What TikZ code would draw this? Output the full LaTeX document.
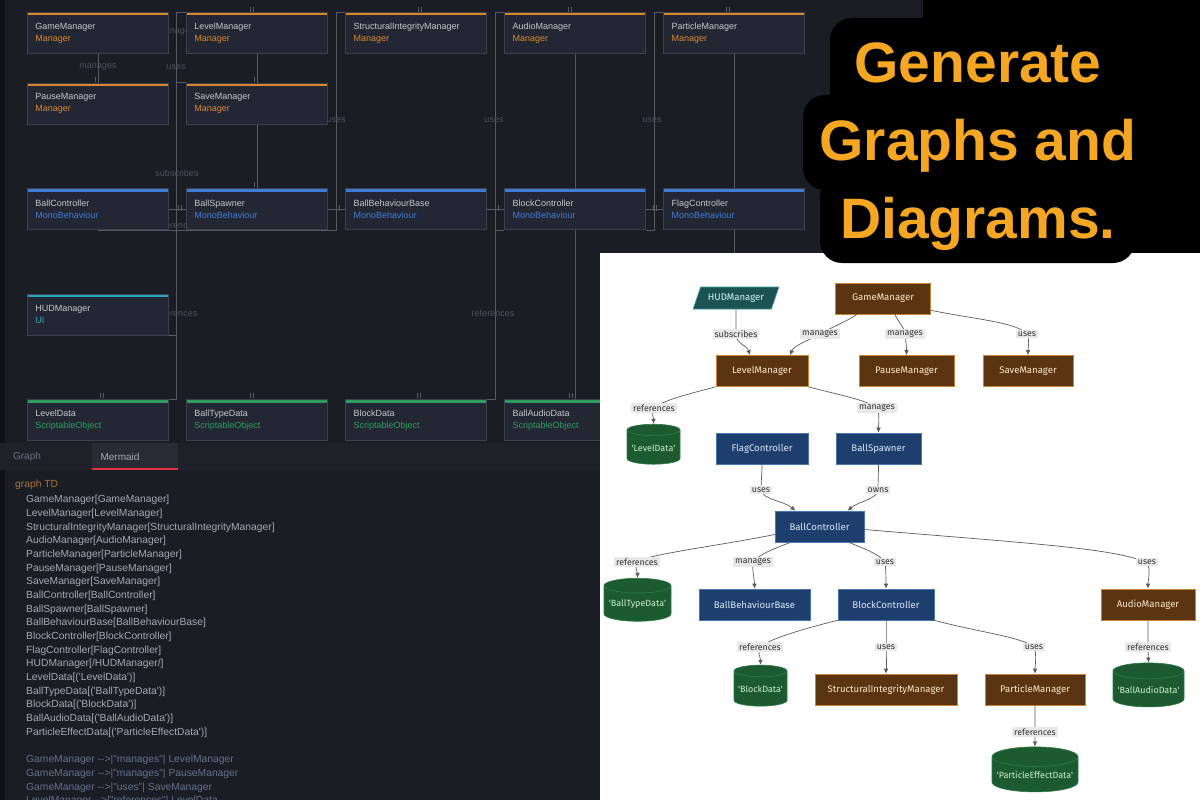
\documentclass[tikz,border=0pt]{standalone}
\usepackage{fontspec}
\setmainfont{Liberation Sans}
\newfontfamily\codefont{Liberation Sans}[Ligatures=TeXOff]
\newfontfamily\mmfont{Fira Sans}[Ligatures=TeXOff]
\usetikzlibrary{positioning,arrows.meta,shapes.geometric}

\definecolor{dbg}{HTML}{1B1D24}
\definecolor{dstrip}{HTML}{101217}
\definecolor{dboxfill}{HTML}{232733}
\definecolor{dline}{HTML}{3B404C}
\definecolor{dwire}{HTML}{555A65}
\definecolor{dlab}{HTML}{4A4F5A}
\definecolor{dtext}{HTML}{C2C6CE}
\definecolor{mgr}{HTML}{D6872C}
\definecolor{mono}{HTML}{3E7CD4}
\definecolor{ui}{HTML}{27A8BE}
\definecolor{sobj}{HTML}{2E9C5C}
\definecolor{tabbar}{HTML}{1F2128}
\definecolor{tabon}{HTML}{282B34}
\definecolor{tabred}{HTML}{E0323C}
\definecolor{tabgray}{HTML}{6B7080}
\definecolor{codekw}{HTML}{A8733A}
\definecolor{codetxt}{HTML}{A4A9B4}
\definecolor{codeedge}{HTML}{64708D}
\definecolor{hl}{HTML}{F5A623}
\definecolor{mbrown}{HTML}{5B3511}
\definecolor{mbrownln}{HTML}{C98434}
\definecolor{mbrowntx}{HTML}{FBE7CF}
\definecolor{mblue}{HTML}{1E3F6E}
\definecolor{mblueln}{HTML}{4A78B2}
\definecolor{mbluetx}{HTML}{DCE6F6}
\definecolor{mteal}{HTML}{1B5353}
\definecolor{mtealln}{HTML}{2F9C9C}
\definecolor{mtealtx}{HTML}{D8F2F2}
\definecolor{mgreen}{HTML}{1C5A2F}
\definecolor{mgreenln}{HTML}{2D7C44}
\definecolor{mgreentx}{HTML}{CDEFC9}
\definecolor{medge}{HTML}{5C5C5C}
\definecolor{elabbg}{HTML}{E8E8E8}
\definecolor{elabtx}{HTML}{333333}

\pgfdeclarelayer{back}
\pgfdeclarelayer{wires}
\pgfsetlayers{back,wires,main}

\begin{document}
\begin{tikzpicture}[
  x=1pt, y=-1pt,
  font=\fontsize{9}{12}\selectfont,
  dbox/.style={draw=dline, line width=0.6pt, fill=dboxfill, text=dtext,
               minimum width=141pt, minimum height=41pt, text width=125pt,
               inner xsep=8pt, inner ysep=0pt, align=left,
               path picture={\fill[#1] (path picture bounding box.north west)
                 rectangle ([yshift=-3pt]path picture bounding box.north east);}},
  wire/.style={draw=dwire, line width=0.6pt},
  dlabel/.style={text=dlab, inner sep=0pt},
  codeblk/.style={inner sep=0pt, align=left,
                  font=\codefont\fontsize{10.3}{13.65}\selectfont},
  mnode/.style={rectangle, line width=0.6pt, minimum height=31pt, inner xsep=4pt,
                font=\mmfont\fontsize{9.6}{11}\selectfont},
  mgrbox/.style={mnode, draw=mbrownln, fill=mbrown, text=mbrowntx},
  ctlbox/.style={mnode, draw=mblueln, fill=mblue, text=mbluetx},
  uibox/.style={mnode, trapezium, trapezium left angle=66, trapezium right angle=114,
                trapezium stretches=true, minimum height=22pt,
                draw=mtealln, fill=mteal, text=mtealtx},
  datacyl/.style={cylinder, shape border rotate=90, aspect=0.25, line width=0.6pt,
                  draw=mgreenln, fill=mgreen, text=mgreentx, inner xsep=1pt,
                  font=\mmfont\fontsize{9}{10}\selectfont},
  flow/.style={draw=medge, line width=0.7pt, -{Latex[length=5pt,width=4.6pt]}},
  elab/.style={fill=elabbg, text=elabtx, inner xsep=2pt, inner ysep=1.8pt,
               font=\mmfont\fontsize{8.8}{10}\selectfont},
  headline/.style={text=hl, align=center, inner sep=0pt,
                   font=\bfseries\fontsize{57}{78}\selectfont},
]
\useasboundingbox (0,0) rectangle (1200,800);
\clip (0,0) rectangle (1200,800);

\begin{pgfonlayer}{back}
  \fill[dbg] (0,0) rectangle (1200,800);
  \fill[dstrip] (0,0) rectangle (5,800);
\end{pgfonlayer}

% ============ dark graph view (top left) ============
\node[dbox=mgr, anchor=north west] (dGame) at (27,12) {GameManager\\\textcolor{mgr}{Manager}};
\node[dbox=mgr, right=17.5pt of dGame] (dLevel) {LevelManager\\\textcolor{mgr}{Manager}};
\node[dbox=mgr, right=17.5pt of dLevel] (dStruct) {StructuralIntegrityManager\\\textcolor{mgr}{Manager}};
\node[dbox=mgr, right=17.5pt of dStruct] (dAudio) {AudioManager\\\textcolor{mgr}{Manager}};
\node[dbox=mgr, right=17.5pt of dAudio] (dParticle) {ParticleManager\\\textcolor{mgr}{Manager}};

\node[dbox=mgr, below=29pt of dGame] (dPause) {PauseManager\\\textcolor{mgr}{Manager}};
\node[dbox=mgr, right=17.5pt of dPause] (dSave) {SaveManager\\\textcolor{mgr}{Manager}};

\node[dbox=mono, below=64pt of dPause] (dBall) {BallController\\\textcolor{mono}{MonoBehaviour}};
\node[dbox=mono, right=17.5pt of dBall] (dSpawn) {BallSpawner\\\textcolor{mono}{MonoBehaviour}};
\node[dbox=mono, right=17.5pt of dSpawn] (dBehav) {BallBehaviourBase\\\textcolor{mono}{MonoBehaviour}};
\node[dbox=mono, right=17.5pt of dBehav] (dBlock) {BlockController\\\textcolor{mono}{MonoBehaviour}};
\node[dbox=mono, right=17.5pt of dBlock] (dFlag) {FlagController\\\textcolor{mono}{MonoBehaviour}};

\node[dbox=ui, below=64pt of dBall] (dHud) {HUDManager\\\textcolor{ui}{UI}};

\node[dbox=sobj, below=64pt of dHud] (dLevelData) {LevelData\\\textcolor{sobj}{ScriptableObject}};
\node[dbox=sobj, right=17.5pt of dLevelData] (dTypeData) {BallTypeData\\\textcolor{sobj}{ScriptableObject}};
\node[dbox=sobj, right=17.5pt of dTypeData] (dBlockData) {BlockData\\\textcolor{sobj}{ScriptableObject}};
\node[dbox=sobj, right=17.5pt of dBlockData] (dAudioData) {BallAudioData\\\textcolor{sobj}{ScriptableObject}};

\begin{pgfonlayer}{wires}
  \coordinate (busA) at ([xshift=-10pt]dLevel.north west);
  \coordinate (busB) at ([xshift=-9pt]dStruct.north west);
  \coordinate (busC) at ([xshift=-9.5pt]dAudio.north west);
  \coordinate (busD) at ([xshift=-9pt]dParticle.north west);
  \draw[wire] (dGame.south) -- (dPause.north);
  \draw[wire] (dLevel.south) -- (dSave.north);
  \draw[wire] (dSave.south) -- (dSpawn.north);
  \draw[wire] (dAudio.south) -- (dBlock.north);
  \draw[wire] (dBlock.south) -- (dAudioData.north);
  \draw[wire] (dParticle.south) -- (dFlag.north);
  \draw[wire] (dFlag.south) -- ++(0,40);
  \draw[wire] (dLevel.north west) -- (busA) |- (dLevelData.north east);
  \draw[wire] (busA |- dSave.north) -- (dSave.north west);
  \draw[wire] (dHud.south) -- (busA |- dHud.south);
  \draw[wire] (dStruct.north west) -- (busB) |- (dBall.south);
  \draw[wire] (dAudio.north west) -- (busC) |- (dBlockData.north east);
  \draw[wire] (busC |- dBlock.south) -- (dBlock.south west);
  \draw[wire] (dParticle.north west) -- (busD) |- (dBlock.south east);
  \draw[wire] (dBall.east) -- (dSpawn.west);
  \draw[wire] (dSpawn.east) -- (dBehav.west);
  \draw[wire] (dBehav.east) -- (dBlock.west);
  \draw[wire] (dBlock.east) -- (dFlag.west);
  % end marks
  \foreach \tx/\ty in {252/12, 420/12, 570/12, 728/12, 97/82, 256/82, 256/187,
                       102/398, 252/398, 419/398, 571/398}
    \draw[wire] (\tx-1.5,\ty-5) -- (\tx-1.5,\ty) (\tx+1.5,\ty-5) -- (\tx+1.5,\ty);
  \foreach \tx in {180, 338, 497, 655}
    \draw[wire] (\tx-1.5,205) -- (\tx-1.5,211) (\tx+1.5,205) -- (\tx+1.5,211);
  % dim edge labels
  \node[dlabel] (dlGamePause) at (98,67) {manages};
  \node[dlabel] (dlUses1) at (176,67) {uses};
  \node[dlabel] (dlGameLevel) at (176,32) {manages};
  \node[dlabel] (dlSubscribes) at (177,173) {subscribes};
  \node[dlabel] (dlRef1) at (176,225) {references};
  \node[dlabel] (dlRef2) at (176,313) {references};
  \node[dlabel] (dlUses2) at (336,120) {uses};
  \node[dlabel] (dlUses3) at (494,120) {uses};
  \node[dlabel] (dlUses4) at (652,120) {uses};
  \node[dlabel] (dlRef3) at (493,313) {references};
\end{pgfonlayer}

% ============ tabs and mermaid source (bottom left) ============
\fill[tabbar] (0,443) rectangle (600,470);
\fill[tabon] (92,443) rectangle (178,470);
\fill[tabred] (92,467.5) rectangle (178,470);
\node[text=tabgray, font=\fontsize{10}{12}\selectfont] (tabGraph) at (27,457) {Graph};
\node[text=codetxt, font=\fontsize{10}{12}\selectfont] (tabMermaid) at (120,457) {Mermaid};

\node[codeblk, text=codekw, anchor=west] (codeHead) at (15,485) {graph TD};
\node[codeblk, text=codetxt, anchor=north west] (codeNodes) at (26,495.3) {%
  GameManager[GameManager]\\
  LevelManager[LevelManager]\\
  StructuralIntegrityManager[StructuralIntegrityManager]\\
  AudioManager[AudioManager]\\
  ParticleManager[ParticleManager]\\
  PauseManager[PauseManager]\\
  SaveManager[SaveManager]\\
  BallController[BallController]\\
  BallSpawner[BallSpawner]\\
  BallBehaviourBase[BallBehaviourBase]\\
  BlockController[BlockController]\\
  FlagController[FlagController]\\
  HUDManager[/HUDManager/]\\
  LevelData[('LevelData')]\\
  BallTypeData[('BallTypeData')]\\
  BlockData[('BlockData')]\\
  BallAudioData[('BallAudioData')]\\
  ParticleEffectData[('ParticleEffectData')]};
\node[codeblk, text=codeedge, anchor=north west] (codeEdges) at (26,755.3) {%
  GameManager -->|"manages"| LevelManager\\
  GameManager -->|"manages"| PauseManager\\
  GameManager -->|"uses"| SaveManager\\
  LevelManager -->|"references"| LevelData};

% ============ rendered mermaid diagram (bottom right) ============
\fill[white] (600,253) rectangle (1200,800);

\node[mgrbox, minimum width=95pt] (mGame) at (883,298.5) {GameManager};
\node[uibox, minimum width=86pt] (mHud) at (736,298) {HUDManager};
\node[mgrbox, minimum width=92pt] (mLevel) at (762,371) {LevelManager};
\node[mgrbox, minimum width=95pt] (mPause) at (906.5,371) {PauseManager};
\node[mgrbox, minimum width=90pt] (mSave) at (1028,371) {SaveManager};
\node[datacyl, minimum width=53pt, minimum height=40pt] (mLevelData) at (653.5,448) {'LevelData'};
\node[ctlbox, minimum width=92pt] (mFlag) at (762,448.5) {FlagController};
\node[ctlbox, minimum width=85pt] (mSpawn) at (878.5,448.5) {BallSpawner};
\node[ctlbox, minimum width=89pt] (mBall) at (819.5,526.5) {BallController};
\node[datacyl, minimum width=67pt, minimum height=43pt] (mTypeData) at (637.5,604.5) {'BallTypeData'};
\node[ctlbox, minimum width=111pt] (mBehav) at (754.5,604.5) {BallBehaviourBase};
\node[ctlbox, minimum width=96pt] (mBlock) at (886,604.5) {BlockController};
\node[mgrbox, minimum width=94pt] (mAudio) at (1148,604.5) {AudioManager};
\node[datacyl, minimum width=53pt, minimum height=41pt] (mBlockData) at (760.5,689.5) {'BlockData'};
\node[mgrbox, minimum width=142pt] (mStruct) at (886,689.5) {StructuralIntegrityManager};
\node[mgrbox, minimum width=100pt] (mParticle) at (1035,689.5) {ParticleManager};
\node[datacyl, minimum width=71pt, minimum height=44pt] (mAudioData) at (1148.5,690) {'BallAudioData'};
\node[datacyl, minimum width=86pt, minimum height=45pt] (mEffectData) at (1035,775.5) {'ParticleEffectData'};

% label spots
\coordinate (eGameLevel) at (820,334);
\coordinate (eGamePause) at (905,334);
\coordinate (eGameSave) at (1027,334);
\coordinate (eHudLevel) at (736,334);
\coordinate (eLevelData) at (654,408);
\coordinate (eLevelSpawn) at (877,408);
\coordinate (eFlagBall) at (761,490);
\coordinate (eSpawnBall) at (878,490);
\coordinate (eBallType) at (637,562);
\coordinate (eBallBehav) at (753,562);
\coordinate (eBallBlock) at (885,562);
\coordinate (eBallAudio) at (1147,562);
\coordinate (eBlockData) at (760,647);
\coordinate (eBlockStruct) at (886,647);
\coordinate (eBlockPart) at (1034,647);
\coordinate (eAudioData) at (1148,647);
\coordinate (eEffect) at (1035,732);

\draw[flow] ([xshift=-26pt]mGame.south) .. controls +(-8,6) and +(12,-7) .. (eGameLevel)
  node[elab] {manages} .. controls +(-12,7) and +(4,-10) .. ([xshift=28pt]mLevel.north);
\draw[flow] ([xshift=12pt]mGame.south) .. controls +(3,8) and +(-1,-8) .. (eGamePause)
  node[elab] {manages} .. controls +(1,8) and +(0,-8) .. (mPause.north);
\draw[flow] ([yshift=4pt]mGame.south east) .. controls +(50,10) and +(-12,-12) .. (eGameSave)
  node[elab] {uses} .. controls +(3,8) and +(0,-8) .. (mSave.north);
\draw[flow] (mHud.south) .. controls +(0,10) and +(0,-10) .. (eHudLevel)
  node[elab] {subscribes} .. controls +(0,10) and +(-3,-10) .. ([xshift=-12pt]mLevel.north);
\draw[flow] (mLevel.south west) .. controls +(-30,8) and +(10,-8) .. (eLevelData)
  node[elab] {references} .. controls +(-3,6) and +(0,-8) .. (mLevelData.north);
\draw[flow] (mLevel.south east) .. controls +(30,8) and +(-10,-8) .. (eLevelSpawn)
  node[elab] {manages} .. controls +(3,6) and +(0,-8) .. (mSpawn.north);
\draw[flow] (mFlag.south) .. controls +(0,10) and +(0,-8) .. (eFlagBall)
  node[elab] {uses} .. controls +(2,10) and +(-12,-10) .. ([xshift=-24pt]mBall.north);
\draw[flow] (mSpawn.south) .. controls +(0,10) and +(0,-8) .. (eSpawnBall)
  node[elab] {owns} .. controls +(-2,10) and +(12,-10) .. ([xshift=28pt]mBall.north);
\draw[flow] ([yshift=-8pt]mBall.west) .. controls +(-60,12) and +(12,-8) .. (eBallType)
  node[elab] {references} .. controls +(-3,6) and +(0,-8) .. (mTypeData.north);
\draw[flow] ([xshift=-29pt]mBall.south) .. controls +(-15,6) and +(6,-8) .. (eBallBehav)
  node[elab] {manages} .. controls +(-1,8) and +(0,-8) .. (mBehav.north);
\draw[flow] ([xshift=29pt]mBall.south) .. controls +(15,6) and +(-6,-8) .. (eBallBlock)
  node[elab] {uses} .. controls +(1,8) and +(0,-8) .. (mBlock.north);
\draw[flow] ([yshift=-3pt]mBall.east) .. controls +(180,15) and +(-40,-14) .. (eBallAudio)
  node[elab] {uses} .. controls +(4,8) and +(0,-8) .. (mAudio.north);
\draw[flow] (mBlock.south west) .. controls +(-40,10) and +(10,-8) .. (eBlockData)
  node[elab] {references} .. controls +(-3,6) and +(0,-8) .. (mBlockData.north);
\draw[flow] (mBlock.south) -- (eBlockStruct) node[elab] {uses} -- (mStruct.north);
\draw[flow] (mBlock.south east) .. controls +(45,12) and +(-12,-10) .. (eBlockPart)
  node[elab] {uses} .. controls +(3,8) and +(0,-8) .. (mParticle.north);
\draw[flow] (mAudio.south) -- (eAudioData) node[elab] {references} -- (mAudioData.north);
\draw[flow] (mParticle.south) -- (eEffect) node[elab] {references} -- (mEffectData.north);

% ============ headline (top right) ============
\fill[black] (923,0) rectangle (1200,253);
\fill[black, rounded corners=22pt] (830,18) rectangle (1230,115);
\fill[black, rounded corners=22pt] (803,95) rectangle (1230,190);
\fill[black, rounded corners=22pt] (820,175) rectangle (1135,263);
\node[headline] (title) at (978,147) {Generate\\Graphs and\\Diagrams.};

\end{tikzpicture}
\end{document}
